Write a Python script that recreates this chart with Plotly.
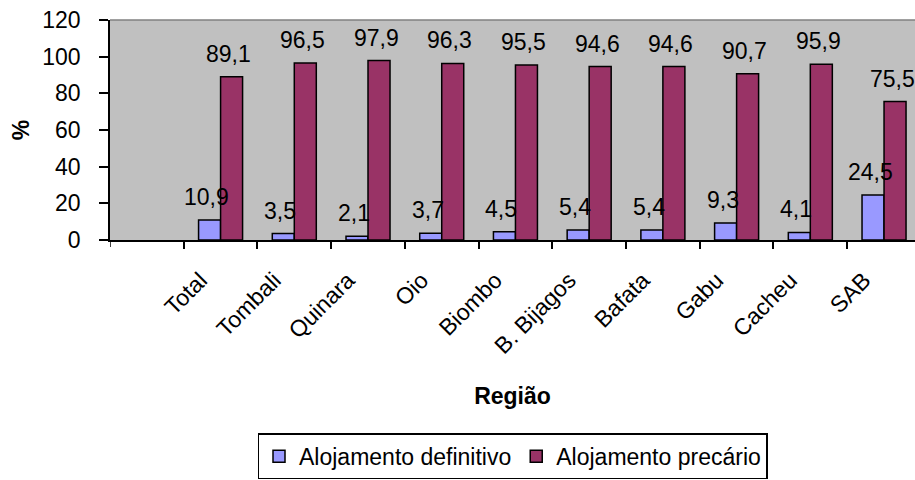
import plotly.graph_objects as go

# Housing type by region (%)
regioes = ["Total", "Tombali", "Quinara", "Oio", "Biombo", "B. Bijagos",
           "Bafata", "Gabu", "Cacheu", "SAB"]
definitivo = [10.9, 3.5, 2.1, 3.7, 4.5, 5.4, 5.4, 9.3, 4.1, 24.5]
precario = [89.1, 96.5, 97.9, 96.3, 95.5, 94.6, 94.6, 90.7, 95.9, 75.5]

FONT = "Liberation Sans, Arial, sans-serif"
AZUL = "#9999FF"
VINHO = "#993366"
FS = 23
X_INICIO = -1.5  # an empty slot precedes the first region


def fmt(v):
    return f"{v:.1f}".replace(".", ",")


fig = go.Figure()
fig.add_trace(go.Bar(
    name="Alojamento definitivo", x=regioes, y=definitivo,
    marker=dict(color=AZUL, line=dict(color="black", width=1.5)),
    hoverinfo="skip",
))
fig.add_trace(go.Bar(
    name="Alojamento precário", x=regioes, y=precario,
    marker=dict(color=VINHO, line=dict(color="black", width=1.5)),
    hoverinfo="skip",
))

# value labels above each bar
for serie, desloc in ((definitivo, -14), (precario, 8)):
    for r, v in zip(regioes, serie):
        fig.add_annotation(
            x=r, y=v, text=fmt(v), showarrow=False,
            xshift=desloc, yshift=8, yanchor="bottom",
            font=dict(family=FONT, size=FS, color="black"),
        )

# grey frame line along the top of the plot area
fig.add_shape(type="line", xref="paper", yref="paper", x0=0, x1=1, y0=1, y1=1,
              line=dict(color="#808080", width=1.5))
# boundary tick at the left end of the category axis
fig.add_shape(type="line", xref="x", yref="paper", x0=X_INICIO, x1=X_INICIO,
              y0=0, y1=-7 / 224, line=dict(color="black", width=1.5))

fig.update_layout(
    width=915, height=480,
    margin=dict(l=110, r=0, t=20, b=236),
    paper_bgcolor="white",
    plot_bgcolor="#C0C0C0",
    barmode="group",
    bargap=0.403,
    bargroupgap=0,
    font=dict(family=FONT, size=FS, color="black"),
    showlegend=True,
    legend=dict(
        orientation="h", x=0.5, xanchor="center", y=-0.879, yanchor="top",
        bordercolor="black", borderwidth=1.5, bgcolor="white",
        font=dict(family=FONT, size=FS, color="black"),
        itemwidth=30, traceorder="normal",
        tracegroupgap=0,
    ),
)

fig.update_xaxes(
    type="category",
    range=[X_INICIO, 9.42],
    tickangle=-45,
    tickson="boundaries",
    ticks="outside", ticklen=7, tickcolor="black", tickwidth=1.5,
    showline=True, linecolor="black", linewidth=1.5,
    showgrid=False,
    tickfont=dict(family=FONT, size=FS, color="black"),
    ticklabelshift=-20,
    ticklabelstandoff=16,
    title=dict(text="<b>Região</b>", font=dict(family=FONT, size=FS, color="black"),
               standoff=30),
    automargin=False,
)
fig.update_yaxes(
    range=[0, 120], dtick=20,
    ticks="outside", ticklen=9, tickcolor="black", tickwidth=1.5,
    showline=True, linecolor="black", linewidth=1.5,
    showgrid=False, zeroline=False,
    tickfont=dict(family=FONT, size=FS, color="black"),
    ticklabelstandoff=14,
    title=dict(text="<b>%</b>", font=dict(family=FONT, size=FS, color="black"),
               standoff=6),
    automargin=False,
)

fig.write_html("out.html")
